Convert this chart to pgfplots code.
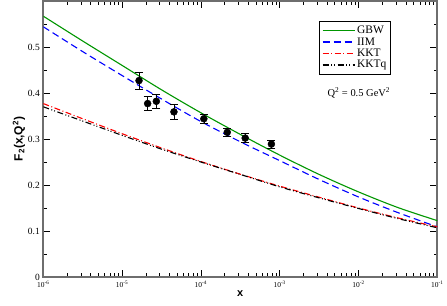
\documentclass[border=0pt]{standalone}
\usepackage{pgfplots}
\pgfplotsset{compat=1.18}
\usepackage{fontspec}
\setmainfont{Liberation Serif}
\newfontfamily\labfont{Liberation Sans}
\definecolor{gbw}{RGB}{0,150,0}
\definecolor{iim}{RGB}{0,0,255}
\definecolor{kkt}{RGB}{255,0,0}
\definecolor{frame}{RGB}{110,110,110}
\begin{document}
\begin{tikzpicture}
\begin{axis}[
  name=ax,
  scale only axis,
  width=394bp, height=276bp,
  xmode=log,
  xmin=1e-6, xmax=1e-1,
  ymin=0, ymax=0.6,
  xtick={1e-6,1e-5,1e-4,1e-3,1e-2,1e-1},
  xticklabels={10\textsuperscript{-6},10\textsuperscript{-5},10\textsuperscript{-4},10\textsuperscript{-3},10\textsuperscript{-2},10\textsuperscript{-1}},
  ytick={0,0.1,0.2,0.3,0.4,0.5},
  yticklabels={0,0.1,0.2,0.3,0.4,0.5},
  minor ytick={0.05,0.15,0.25,0.35,0.45,0.55},
  tick align=inside,
  major tick length=7bp,
  minor tick length=3.5bp,
  every tick/.style={black, line width=0.6bp},
  axis line style={frame, line width=1.6bp},
  xticklabel style={font=\fontsize{7.5}{8}\selectfont, yshift=-1bp},
  yticklabel style={font=\fontsize{9.5}{10}\selectfont},
  xlabel={\labfont\bfseries x},
  ylabel={\labfont\bfseries F\textsubscript{2}(x,Q\textsuperscript{2})},
  xlabel style={font=\fontsize{11}{12}\selectfont, yshift=4bp},
  ylabel style={font=\fontsize{12}{13}\selectfont, yshift=-4bp},
  legend style={at={(0.70,0.9275)}, anchor=north west, draw=black, line width=0.9bp,
     font=\fontsize{11.5}{12}\selectfont, inner sep=2.5bp, row sep=-1.5bp},
  legend cell align=left,
  legend image code/.code={\draw[#1, line width=1.1bp] (0bp,0bp) -- (32bp,0bp);},
]
\addplot[gbw, line width=1.1bp, smooth] coordinates {
(1e-6,0.567) (3.162e-6,0.513) (1e-5,0.460) (3.162e-5,0.407) (1e-4,0.357)
(3.162e-4,0.310) (1e-3,0.265) (3.162e-3,0.223) (1e-2,0.185) (3.162e-2,0.151) (1e-1,0.1225)};
\addlegendentry{GBW}
\addplot[iim, line width=1.1bp, dash pattern=on 7bp off 4bp, smooth] coordinates {
(1e-6,0.544) (3.162e-6,0.490) (1e-5,0.438) (3.162e-5,0.387) (1e-4,0.338)
(3.162e-4,0.294) (1e-3,0.253) (3.162e-3,0.212) (1e-2,0.174) (3.162e-2,0.140) (1e-1,0.109)};
\addlegendentry{IIM}
\addplot[kkt, line width=1.1bp, dash pattern=on 6bp off 2.5bp on 1bp off 2.5bp, smooth] coordinates {
(1e-6,0.377) (3.162e-6,0.344) (1e-5,0.3115) (3.162e-5,0.2805) (1e-4,0.251)
(3.162e-4,0.2235) (1e-3,0.1975) (3.162e-3,0.1735) (1e-2,0.150) (3.162e-2,0.1285) (1e-1,0.109)};
\addlegendentry{KKT}
\addplot[black, line width=1.1bp, dash pattern=on 6bp off 2.5bp on 1bp off 2bp on 1bp off 2.5bp, smooth] coordinates {
(1e-6,0.370) (3.162e-6,0.339) (1e-5,0.308) (3.162e-5,0.278) (1e-4,0.250)
(3.162e-4,0.223) (1e-3,0.196) (3.162e-3,0.172) (1e-2,0.149) (3.162e-2,0.127) (1e-1,0.107)};
\addlegendentry{KKTq}
\addplot[only marks, mark=*, mark size=3.5bp, black, forget plot,
  error bars/.cd, y dir=both, y explicit,
  error bar style={black, line width=0.6bp},
  error mark options={rotate=90, mark size=4bp, black, line width=0.6bp}]
 coordinates {
(1.64e-5,0.427) +- (0,0.018)
(2.11e-5,0.377) +- (0,0.015)
(2.72e-5,0.382) +- (0,0.0145)
(4.55e-5,0.359) +- (0,0.016)
(1.09e-4,0.344) +- (0,0.010)
(2.16e-4,0.3146) +- (0,0.0095)
(3.65e-4,0.302) +- (0,0.0095)
(7.85e-4,0.289) +- (0,0.009)
};
\node[font=\fontsize{10.5}{11}\selectfont] at (axis description cs:0.801,0.667) {Q\textsuperscript{2} = 0.5 GeV\textsuperscript{2}};
\end{axis}
\pgfresetboundingbox
\path[use as bounding box] (ax.south west) ++(-43.3bp,-29bp) rectangle ++(447bp,306bp);
\end{tikzpicture}
\end{document}
